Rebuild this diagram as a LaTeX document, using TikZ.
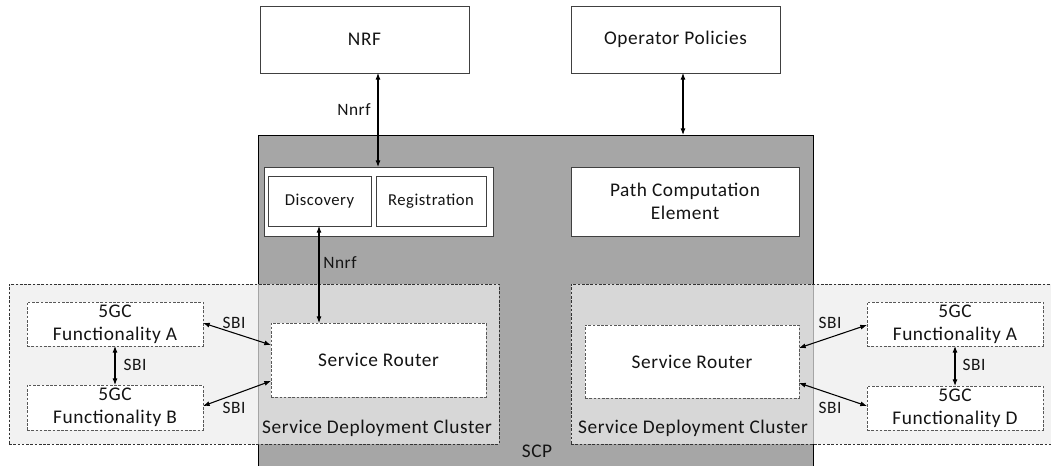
\documentclass[tikz,border=0pt]{standalone}
\usepackage{fontspec}
\setmainfont{Carlito}[LetterSpace=3]
\usetikzlibrary{arrows.meta}
\definecolor{scpgray}{HTML}{A6A6A6}
\definecolor{clfill}{HTML}{ECECEC}
\definecolor{txt}{HTML}{141414}
\begin{document}
\begin{tikzpicture}[x=0.75pt,y=-0.75pt,
  sz/.style 2 args={minimum width=#1*0.75pt, minimum height=#2*0.75pt},
  solidbox/.style={draw=black!75, line width=0.6pt, fill=white, inner sep=0pt, outer sep=0pt, text=txt, align=center},
  dashbox/.style={draw=black!65, line width=0.6pt, dash pattern=on 2pt off 1.2pt, fill=white, inner sep=0pt, outer sep=0pt, text=txt, align=center},
  cluster/.style={draw=black!80, line width=0.6pt, dash pattern=on 2pt off 1.2pt, fill=clfill, fill opacity=0.7, draw opacity=1, inner sep=0pt, outer sep=0pt},
  big/.style={font=\fontsize{14.5}{17}\selectfont},
  mid/.style={font=\fontsize{13}{15}\selectfont},
  small/.style={font=\fontsize{12.5}{15}\selectfont},
  lbl/.style={text=txt, inner sep=0pt},
  arr/.style={line width=0.8pt, {Latex[length=5pt,width=3.8pt]}-{Latex[length=5pt,width=3.8pt]}}
]
\useasboundingbox (0,0) rectangle (1051,466);
\begin{scope}
\clip (0,0) rectangle (1051,466);
% SCP
\node[draw=black, line width=0.7pt, fill=scpgray, sz={555}{340}, inner sep=0pt, outer sep=0pt] (SCP) at (535.5,305) {};
\node[lbl, big] (scplabel) at (537,451) {SCP};
% top boxes
\node[solidbox, big, sz={209}{67}] (NRF) at (364.5,39.5) {NRF};
\node[solidbox, big, sz={209}{67}] (OP) at (675.5,39.5) {Operator Policies};
% discovery / registration
\node[solidbox, sz={229}{69}] (DR) at (378.5,201.5) {};
\node[solidbox, small, sz={103}{50}] (Disc) at (319.5,201) {Discovery};
\node[solidbox, small, sz={110}{50}] (Reg) at (431,201) {Registration};
% PCE
\node[solidbox, big, sz={228}{69}] (PCE) at (685,201.5) {Path Computation\\Element};
% clusters
\node[cluster, sz={490}{160}] (LC) at (254,364) {};
\node[cluster, sz={490}{160}] (RC) at (816,364) {};
\node[lbl, big] (LCl) at (377,428) {Service Deployment Cluster};
\node[lbl, big] (RCl) at (693,428) {Service Deployment Cluster};
% inner boxes
\node[dashbox, big, sz={176}{44}] (LA) at (115,324) {5GC\\Functionality A};
\node[dashbox, big, sz={176}{45}] (LB) at (115,407.5) {5GC\\Functionality B};
\node[dashbox, big, sz={215}{74}] (LSR) at (378.5,360) {Service Router};
\node[dashbox, big, sz={214}{73}] (RSR) at (692,361.5) {Service Router};
\node[dashbox, big, sz={176}{44}] (RA) at (955,324) {5GC\\Functionality A};
\node[dashbox, big, sz={176}{44}] (RD) at (955,408) {5GC\\Functionality D};
% connectors
\draw[arr] (378,0 |- NRF.south) -- (378,0 |- DR.north);
\node[lbl, mid] (n1) at (354,110) {Nnrf};
\draw[arr] (683,0 |- OP.south) -- (683,0 |- SCP.north);
\draw[arr] (319,0 |- Disc.south) -- (319,0 |- LSR.north);
\node[lbl, mid] (n2) at (340,263) {Nnrf};
\draw[arr] (LA.east |- 0,323) -- (LSR.west |- 0,345);
\draw[arr] (LB.east |- 0,406) -- (LSR.west |- 0,381);
\draw[arr] (LA.south) -- (LB.north);
\draw[arr] (RSR.east |- 0,348) -- (RA.west |- 0,325);
\draw[arr] (RSR.east |- 0,383) -- (RD.west |- 0,406);
\draw[arr] (RA.south) -- (RD.north);
\node[lbl, mid] (s1) at (234,323) {SBI};
\node[lbl, mid] (s2) at (234,408) {SBI};
\node[lbl, mid] (s3) at (135,365) {SBI};
\node[lbl, mid] (s4) at (830,323) {SBI};
\node[lbl, mid] (s5) at (830,408) {SBI};
\node[lbl, mid] (s6) at (974,365) {SBI};
\end{scope}
\end{tikzpicture}
\end{document}
